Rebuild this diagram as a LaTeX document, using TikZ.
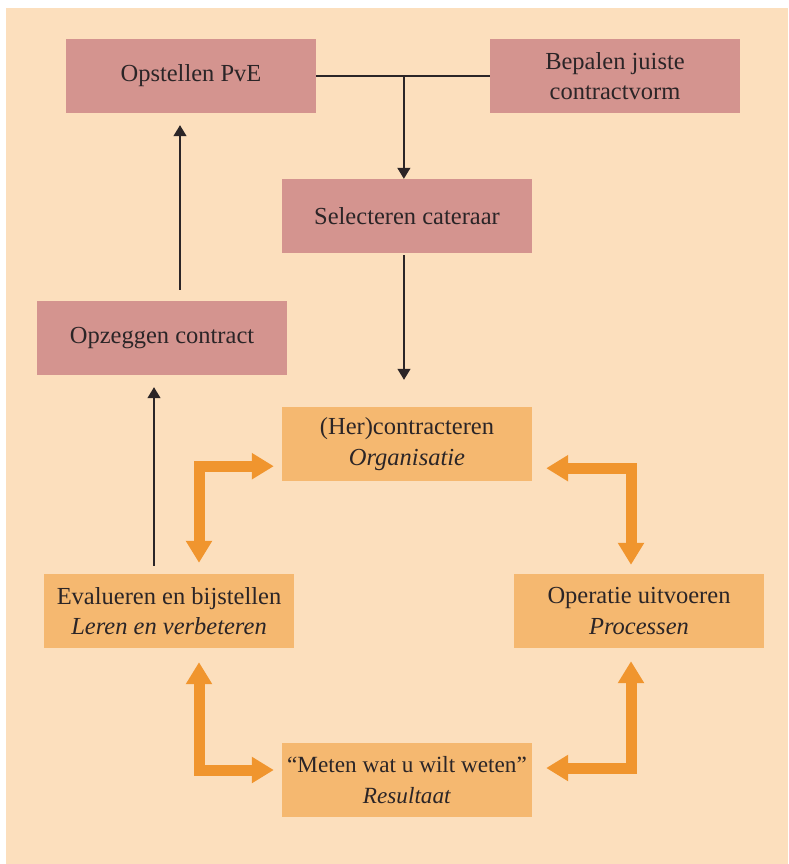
\documentclass[tikz,border=0pt]{standalone}
\usepackage{fontspec}
\setmainfont{Liberation Serif}
\usetikzlibrary{arrows.meta,calc}
\definecolor{bgpeach}{HTML}{FCDFBD}
\definecolor{pinkbox}{HTML}{D4948F}
\definecolor{orangebox}{HTML}{F5B870}
\definecolor{orangearrow}{HTML}{F0952E}
\definecolor{txtdark}{HTML}{2B2527}
\tikzset{
  pbox/.style={fill=pinkbox, draw=none, minimum width=250pt, minimum height=74pt, inner sep=0pt, align=center, text=txtdark, font=\fontsize{24.5}{30.5}\selectfont},
  obox/.style={fill=orangebox, draw=none, minimum width=250pt, minimum height=74pt, inner sep=0pt, align=center, text=txtdark, font=\fontsize{24.5}{30.5}\selectfont},
  thinarrow/.style={draw=txtdark, line width=1.3pt, -{Triangle[length=11pt,width=13pt]}},
  thinline/.style={draw=txtdark, line width=1.3pt},
  bigarrow/.style={draw=orangearrow, line width=11pt, line join=miter, {Triangle[length=22pt,width=25pt]}-{Triangle[length=22pt,width=25pt]}}
}
\begin{document}
\begin{tikzpicture}[x=1pt,y=-1pt]
\useasboundingbox (0,0) rectangle (788,864);
\fill[bgpeach] (6,8) rectangle (788,864);
\node[pbox] (ops) at (191,76) {Opstellen PvE};
\node[pbox] (bep) at (615,76) {Bepalen juiste\\contractvorm};
\node[pbox] (sel) at (407,216) {Selecteren cateraar};
\node[pbox] (opz) at (162,338) {Opzeggen contract};
\node[obox] (her) at (407,444) {(Her)contracteren\\\textit{Organisatie}};
\node[obox] (evl) at (169,611) {Evalueren en bijstellen\\\textit{Leren en verbeteren}};
\node[obox] (op) at (639,611) {Operatie uitvoeren\\\textit{Processen}};
\node[obox, font=\fontsize{23.2}{30.5}\selectfont] (met) at (407,780) {“Meten wat u wilt weten”\\\textit{Resultaat}};
% top connector
\coordinate (junc) at ($(ops.east)!0.505!(bep.west)$);
\draw[thinline] (ops.east) -- (bep.west);
\draw[thinarrow] (junc) -- (junc |- sel.north);
\draw[thinarrow] ($(sel.south)+(-3,2)$) -- ($(her.north)+(-3,-27)$);
\draw[thinarrow] ($(opz.north)+(18,-11)$) -- ($(ops.south)+(-11,12)$);
\draw[thinarrow] ($(evl.north)+(-15,-8)$) -- ($(opz.south)+(-8,12)$);
% orange double arrows
\draw[bigarrow] ($(her.south west)+(-8,-15)$) -| ($(evl.north)+(30,-11)$);
\draw[bigarrow] ($(her.south east)+(14,-13)$) -| ($(op.north)+(-8,-9)$);
\draw[bigarrow] ($(evl.south)+(30,14)$) |- ($(met.west)+(-8,-10)$);
\draw[bigarrow] ($(op.south)+(-8,13)$) |- ($(met.east)+(14,-12)$);
\end{tikzpicture}
\end{document}
